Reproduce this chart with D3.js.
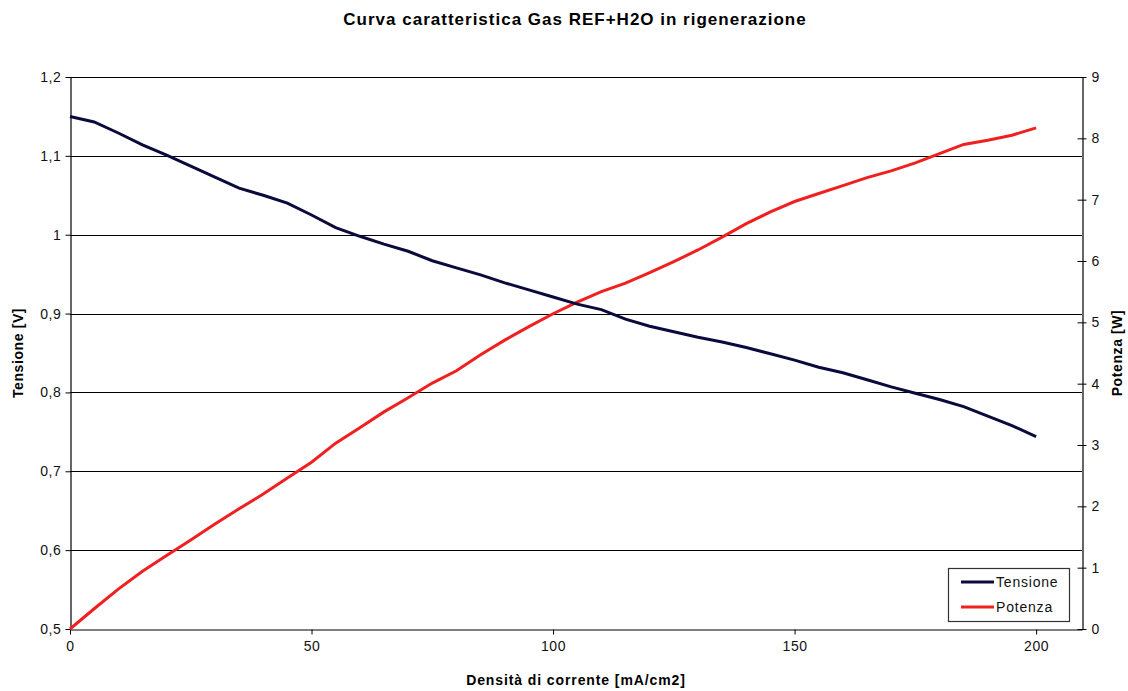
<!DOCTYPE html>
<html><head><meta charset="utf-8">
<script src="https://cdn.jsdelivr.net/npm/d3@7/dist/d3.min.js"></script>
<style>body{margin:0;background:#fff;} text{font-family:"Liberation Sans",Arial,sans-serif;}</style>
</head><body><svg id="c" width="1128" height="691"></svg>
<script>
const current = [0,5,10,15,20,25,30,35,40,45,50,55,60,65,70,75,80,85,90,95,100,105,110,115,120,125,130,135,140,145,150,155,160,165,170,175,180,185,190,195,200];
const tensione = [1.150,1.143,1.129,1.114,1.101,1.087,1.073,1.059,1.050,1.040,1.025,1.009,0.998,0.988,0.979,0.967,0.958,0.949,0.939,0.930,0.921,0.912,0.905,0.893,0.884,0.877,0.870,0.864,0.857,0.849,0.841,0.832,0.825,0.816,0.807,0.799,0.791,0.782,0.770,0.758,0.744];
const potenza = [0,0.33,0.65,0.94,1.20,1.45,1.71,1.96,2.20,2.46,2.72,3.03,3.28,3.54,3.77,4.01,4.21,4.47,4.71,4.93,5.14,5.33,5.50,5.64,5.81,5.99,6.18,6.39,6.61,6.80,6.97,7.10,7.23,7.36,7.47,7.60,7.75,7.90,7.97,8.05,8.17];
const xTicks = [0,50,100,150,200];
const yLeftTicks = [0.5,0.6,0.7,0.8,0.9,1.0,1.1,1.2];
const yRightTicks = [0,1,2,3,4,5,6,7,8,9];
const title = "Curva caratteristica Gas REF+H2O in rigenerazione";
const xLabel = "Densità di corrente [mA/cm2]";
const yLeftLabel = "Tensione [V]";
const yRightLabel = "Potenza [W]";
const seriesNames = ["Tensione","Potenza"];
const colors = ["#0a0a3c","#f02020"];

const svg = d3.select("#c");
const L=70, R=1082, T=77, B=629;
const x = d3.scaleLinear().domain([0,209.5]).range([L,R]);
const yL = d3.scaleLinear().domain([0.5,1.2]).range([B,T]);
const yR = d3.scaleLinear().domain([0,9]).range([B,T]);
const fmt = d => String(d).replace(".",",");

// gridlines
svg.append("g").selectAll("line").data(yLeftTicks.slice(1)).join("line")
  .attr("x1",L).attr("x2",R).attr("y1",d=>Math.round(yL(d))+0.5).attr("y2",d=>Math.round(yL(d))+0.5)
  .attr("stroke","#000").attr("stroke-width",1);

// left axis
const gl = svg.append("g").attr("transform",`translate(${L+0.5},0)`)
  .call(d3.axisLeft(yL).tickValues(yLeftTicks).tickFormat(fmt).tickSize(5).tickSizeOuter(0));
// bottom axis
const gb = svg.append("g").attr("transform",`translate(0,${B+0.5})`)
  .call(d3.axisBottom(x).tickValues(xTicks).tickSize(5).tickSizeOuter(0));
// right axis
const gr = svg.append("g").attr("transform",`translate(${R+0.5},0)`)
  .call(d3.axisRight(yR).tickValues(yRightTicks).tickSize(4).tickSizeOuter(0));
gr.selectAll(".tick line").attr("x1",-5);
[gl,gb,gr].forEach(g=>{
  g.select(".domain").attr("stroke","#000").attr("stroke-width",1.2);
  g.selectAll(".tick line").attr("stroke","#000");
  g.selectAll(".tick text").attr("font-size",14).attr("letter-spacing",0.6).attr("fill","#111").attr("font-family","Liberation Sans, Arial, sans-serif");
});
gl.selectAll(".tick text").attr("x",-9);
gb.selectAll(".tick text").attr("y",12);
gr.selectAll(".tick text").attr("x",9);

// lines
const lineV = d3.line().x((d,i)=>x(current[i])).y(d=>yL(d));
const lineP = d3.line().x((d,i)=>x(current[i])).y(d=>yR(d));
svg.append("path").datum(potenza).attr("d",lineP).attr("fill","none").attr("stroke",colors[1]).attr("stroke-width",3);
svg.append("path").datum(tensione).attr("d",lineV).attr("fill","none").attr("stroke",colors[0]).attr("stroke-width",3);

// titles
svg.append("text").attr("x",575).attr("y",25).attr("text-anchor","middle").attr("font-size",17).attr("letter-spacing",1).attr("font-weight","bold").text(title);
svg.append("text").attr("x",576).attr("y",685).attr("text-anchor","middle").attr("font-size",14).attr("letter-spacing",0.9).attr("font-weight","bold").text(xLabel);
svg.append("text").attr("transform","translate(23,353) rotate(-90)").attr("text-anchor","middle").attr("font-size",14).attr("letter-spacing",0.6).attr("font-weight","bold").text(yLeftLabel);
svg.append("text").attr("transform","translate(1122,353) rotate(-90)").attr("text-anchor","middle").attr("font-size",14).attr("letter-spacing",0.6).attr("font-weight","bold").text(yRightLabel);

// legend
const lg = svg.append("g");
lg.append("rect").attr("x",948.5).attr("y",568.5).attr("width",121).attr("height",53).attr("fill","#fff").attr("stroke","#333").attr("stroke-width",1.2);
seriesNames.forEach((n,i)=>{
  const yy = 582 + i*25;
  lg.append("line").attr("x1",961).attr("x2",994).attr("y1",yy).attr("y2",yy).attr("stroke",colors[i]).attr("stroke-width",3);
  lg.append("text").attr("x",996).attr("y",yy+5).attr("font-size",14).attr("letter-spacing",0.8).attr("fill","#111").text(n);
});
</script></body></html>
